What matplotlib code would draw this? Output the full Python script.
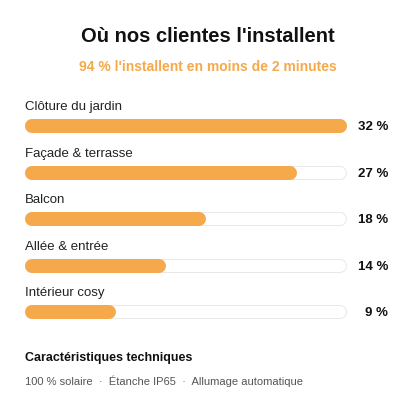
import matplotlib
matplotlib.use("Agg")
import matplotlib.pyplot as plt

categories = ["Clôture du jardin", "Façade & terrasse", "Balcon", "Allée & entrée", "Intérieur cosy"]
values = [32, 27, 18, 14, 9]
value_labels = ["32 %", "27 %", "18 %", "14 %", "9 %"]
title = "Où nos clientes l'installent"
subtitle = "94 % l'installent en moins de 2 minutes"
footer_title = "Caractéristiques techniques"
footer_text = "100 % solaire  ·  Étanche IP65  ·  Allumage automatique"

W = 416
plt.rcParams['font.family'] = ['Liberation Sans', 'DejaVu Sans']
fig = plt.figure(figsize=(4.16, 4.16), dpi=100)
fig.patch.set_facecolor('white')
L, R = 25, 347
ax = fig.add_axes([L / W, 0, (R - L) / W, 1])
ax.set_xlim(0, 32)
ax.set_ylim(W, 0)
ax.axis('off')

orange = '#F5A94A'
px = 32 / (R - L)  # data units per pixel
r = 7 * px
lw_pt = 14 * 72 / 100

for i, (c, v, lab) in enumerate(zip(categories, values, value_labels)):
    yb = 126 + i * 46.6
    ax.plot([r, 32 - r], [yb, yb], color='#E8E8E8', lw=lw_pt, solid_capstyle='round')
    ax.plot([r, 32 - r], [yb, yb], color='white', lw=lw_pt - 1.4, solid_capstyle='round')
    ax.plot([r, v - r], [yb, yb], color=orange, lw=lw_pt, solid_capstyle='round')
    fig.text(L / W, 1 - (yb - 19) / W, c, fontsize=9.5, color='#222222', va='center', ha='left')
    fig.text(388 / W, 1 - (yb + 1) / W, lab, fontsize=9.5, color='#111111', va='center', ha='right', fontweight='bold')

fig.text(0.5, 1 - 37 / W, title, fontsize=14.5, fontweight='bold', ha='center', va='center', color='#111111')
fig.text(0.5, 1 - 67 / W, subtitle, fontsize=10, fontweight='bold', ha='center', va='center', color=orange)
fig.text(L / W, 1 - 358 / W, footer_title, fontsize=9, fontweight='bold', ha='left', va='center', color='#111111')
fig.text(L / W, 1 - 381 / W, footer_text, fontsize=8, ha='left', va='center', color='#555555')

fig.savefig('out.png', dpi=100, facecolor='white')
